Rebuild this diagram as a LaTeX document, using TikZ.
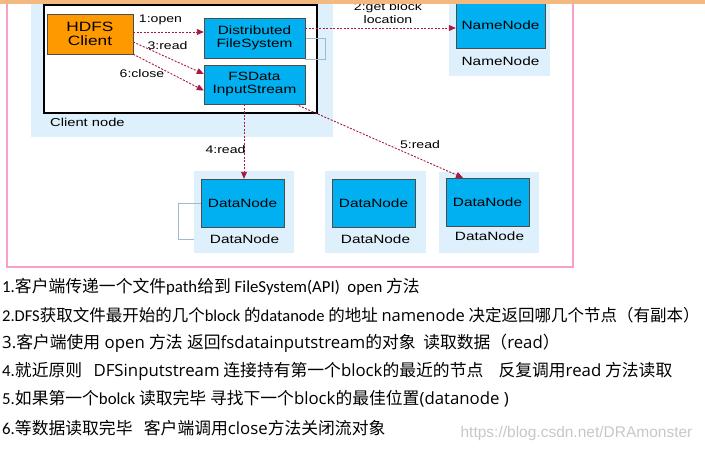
\documentclass[tikz,border=0pt]{standalone}
\usepackage{fontspec}
\setmainfont{Carlito}
\newfontfamily\diagfont[FakeStretch=1.28]{Liberation Sans}
\newfontfamily\markfont{Liberation Sans}
\newfontfamily\cjk{Noto Sans CJK SC}
\newfontfamily\lat{Open Sans}
\usetikzlibrary{arrows.meta,positioning}
\definecolor{areacol}{RGB}{222,240,251}
\definecolor{boxcol}{RGB}{0,176,240}
\definecolor{clientcol}{RGB}{255,153,0}
\definecolor{callcol}{RGB}{168,24,64}
\definecolor{framecol}{RGB}{250,160,200}
\definecolor{bandcol}{RGB}{244,185,126}
\definecolor{auxcol}{RGB}{160,185,210}
\tikzstyle{hdfsbox}=[draw=black!70,fill=boxcol,inner sep=0,align=center,font=\diagfont\fontsize{12}{13}\selectfont]
\tikzstyle{clientbox}=[hdfsbox,fill=clientcol,font=\diagfont\fontsize{13.5}{14.5}\selectfont]
\tikzstyle{boxlabel}=[inner sep=0,font=\diagfont\fontsize{12}{13}\selectfont]
\tikzstyle{steplabel}=[inner sep=0,align=center,font=\diagfont\fontsize{11}{13}\selectfont]
\tikzstyle{call}=[callcol,line width=0.9pt,dash pattern=on 2pt off 1.5pt,-{Triangle[length=7pt,width=6pt]}]
\tikzstyle{note}=[anchor=west,inner sep=0,font=\fontsize{16.8}{18}\selectfont]

\begin{document}
\begin{tikzpicture}[x=1pt,y=-1pt]
  \useasboundingbox (0,0) rectangle (705,452);

  % AREAS
  \fill[areacol] (31,0) rectangle (333,137);
  \fill[areacol] (449,0) rectangle (550,76);
  \fill[areacol] (194,171) rectangle (294,253);
  \fill[areacol] (325,171) rectangle (426,253);
  \fill[areacol] (439,172) rectangle (539,253);
  \draw[black,line width=1.2pt,fill=white] (44,5) rectangle (317,113);
  \draw[auxcol,thin] (305,38) -- (325,38) -- (325,59) -- (305,59);
  \draw[auxcol,thin] (201,203) -- (178,203) -- (178,239) -- (194,239);

  % BOXES
  \node[clientbox,minimum width=86pt,minimum height=40pt] (hdfs) at (90,34) {HDFS\\Client};
  \node[hdfsbox,minimum width=101pt,minimum height=40pt] (dfs) at (254.5,38) {Distributed\\FileSystem};
  \node[hdfsbox,minimum width=101pt,minimum height=39pt] (fsd) at (254.5,84.5) {FSData\\InputStream};
  \node[boxlabel,anchor=west,font=\diagfont\fontsize{11.5}{12}\selectfont] (client) at (50,122) {Client node};
  \node[hdfsbox,minimum width=89pt,minimum height=46pt] (nn) at (500.5,25) {NameNode};
  \node[boxlabel] (nnlabel) at (500.5,61) {NameNode};
  \foreach \n/\x/\y/\ly in {1/242.5/203/239, 2/373.5/203.5/239, 3/487.5/202/236}{
    \node[hdfsbox,minimum width=83pt,minimum height=48pt] (dn\n) at (\x,\y) {DataNode};
    \node[boxlabel] (dnlabel\n) at (\x+2,\ly) {DataNode};
  }

  % CALLS
  \draw[call] ([yshift=2pt]hdfs.east) -- ([yshift=6pt]dfs.west);
  \draw[call] ([yshift=-8pt]hdfs.east) -- ([yshift=10.5pt]fsd.west);
  \draw[call] (hdfs.south east) -- ([yshift=-6pt]fsd.west);
  \draw[call] ([yshift=10pt]dfs.east) -- ([yshift=-3pt]nn.west);
  \coordinate (read4from) at ([xshift=-10.5pt]fsd.south);
  \draw[call] (read4from) -- (read4from |- dn1.north);
  \draw[call] ([xshift=41pt]fsd.south) -- ([xshift=-24.5pt]dn3.north);

  % LABELS
  \node[steplabel] (open) at (160.5,20) {1:open};
  \node[steplabel] (read3) at (167.5,45.5) {3:read};
  \node[steplabel] (close) at (142,74) {6:close};
  \node[steplabel] (getblock) at (388,13.5) {2:get block\\location};
  \node[steplabel] (read4) at (225.5,150) {4:read};
  \node[steplabel] (read5) at (420,144.5) {5:read};

  % NOTES
  \node[note] (note1) at (2,287) {1.{\cjk 客户端传递一个文件}path{\cjk 给到} FileSystem(API)\ \ open {\cjk 方法}};
  \node[note,font=\fontsize{16.5}{18}\selectfont] (note2) at (2,315) {2.DFS{\cjk 获取文件最开始的几个}block {\cjk 的}datanode {\cjk 的地址} {\lat namenode} {\cjk 决定返回哪几个节点（有副本）}};
  \node[note] (note3) at (2,343) {\lat 3.{\cjk 客户端使用} open {\cjk 方法} {\cjk 返回}fsdatainputstream{\cjk 的对象\ \ 读取数据（}read{\cjk ）}};
  \node[note] (note4) at (2,371) {4.{\cjk 就近原则}\ \ \ {\lat DFSinputstream} {\cjk 连接持有第一个}{\lat block}{\cjk 的最近的节点}\ \ \ \ {\cjk 反复调用}{\lat read} {\cjk 方法读取}};
  \node[note] (note5) at (2,399) {5.{\cjk 如果第一个}bolck {\cjk 读取完毕} {\cjk 寻找下一个}{\lat block}{\cjk 的最佳位置}{\lat (datanode )}};
  \node[note] (note6) at (2,428) {6.{\cjk 等数据读取完毕}\ \ \ {\cjk 客户端调用}{\lat close}{\cjk 方法关闭流对象}};
  \node[inner sep=0,text=black!22,font=\markfont\fontsize{15.5}{16}\selectfont] (mark) at (576.5,433) {https://blog.csdn.net/DRAmonster};

  % FRAME
  \draw[framecol,line width=2pt] (7,4) -- (7,267) -- (573,267) -- (573,4);
  \fill[bandcol] (0,0) rectangle (705,4);
\end{tikzpicture}
\end{document}
